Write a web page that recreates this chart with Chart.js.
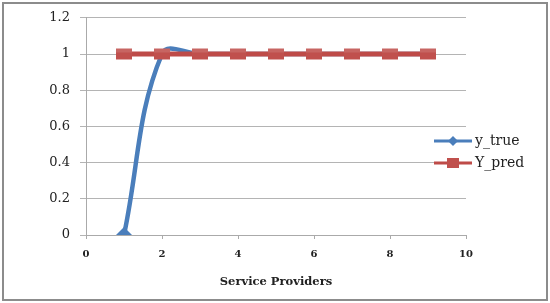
<!DOCTYPE html>
<html>
<head>
<meta charset="utf-8">
<script src="https://cdn.jsdelivr.net/npm/chart.js@4"></script>
<style>
  html, body { margin: 0; padding: 0; background: #fff; }
  #wrap { width: 550px; height: 303px; position: relative; }
</style>
</head>
<body>
<div id="wrap"><canvas id="myChart" width="550" height="303"></canvas></div>
<script>
const providers = [1, 2, 3, 4, 5, 6, 7, 8, 9];
const yTrue = [0, 1, 1, 1, 1, 1, 1, 1, 1];
const yPred = [1, 1, 1, 1, 1, 1, 1, 1, 1];
const seriesNames = ["y_true", "Y_pred"];
const blue = "#4a7ebb";
const red = "#be4b48";

// red square marker, wider than tall like the original
const sq = document.createElement("canvas");
sq.width = 18;
sq.height = 13;
const sctx = sq.getContext("2d");
sctx.fillStyle = "#c0504d";
sctx.fillRect(1, 1, 16, 11);
sctx.fillStyle = "rgba(255,255,255,0.12)";
sctx.fillRect(1, 1, 16, 4);

const serif = "'DejaVu Serif', 'Liberation Serif', serif";

const frame = {
  id: "frame",
  afterDraw(chart) {
    const c = chart.ctx;
    c.save();
    c.strokeStyle = "#8c8c8c";
    c.lineWidth = 2;
    c.strokeRect(3, 3, 544, 297);

    // legend
    const items = [
      { y: 141, color: blue, marker: "diamond", text: seriesNames[0] },
      { y: 163, color: red, marker: "square", text: seriesNames[1] },
    ];
    items.forEach((it) => {
      c.strokeStyle = it.color;
      c.lineWidth = 3;
      c.beginPath();
      c.moveTo(434, it.y);
      c.lineTo(472, it.y);
      c.stroke();
      c.fillStyle = it.color;
      if (it.marker === "diamond") {
        c.beginPath();
        c.moveTo(453, it.y - 5);
        c.lineTo(458, it.y);
        c.lineTo(453, it.y + 5);
        c.lineTo(448, it.y);
        c.closePath();
        c.fill();
      } else {
        c.fillStyle = "#c0504d";
        c.fillRect(447, it.y - 5, 12, 10);
      }
      c.fillStyle = "#222";
      c.font = "14px " + serif;
      c.textBaseline = "middle";
      c.textAlign = "left";
      c.fillText(it.text, 475, it.y);
    });
    c.restore();
  },
};

const ctx = document.getElementById("myChart");
const chart = new Chart(ctx, {
  type: "line",
  data: {
    datasets: [
      {
        label: seriesNames[1],
        data: providers.map((x, i) => ({ x: x, y: yPred[i] })),
        borderColor: red,
        borderWidth: 5,
        pointStyle: sq,
        pointRadius: 8,
        tension: 0,
      },
      {
        label: seriesNames[0],
        data: providers.map((x, i) => ({ x: x, y: yTrue[i] })),
        borderColor: blue,
        backgroundColor: blue,
        borderWidth: 4.5,
        pointStyle: "rectRot",
        // markers at y=1 sit behind the red squares anyway
        pointRadius: (c) => (c.dataIndex === 0 ? 8 : 0),
        pointBorderWidth: 0,
        tension: 0.4,
      },
    ],
  },
  options: {
    responsive: false,
    animation: false,
    layout: { padding: { left: 0, right: 84, top: 15, bottom: 10 } },
    plugins: { legend: { display: false }, tooltip: { enabled: false } },
    scales: {
      x: {
        type: "linear",
        min: 0,
        max: 10,
        ticks: {
          stepSize: 2,
          color: "#222",
          font: { family: serif, size: 10, weight: "bold" },
          padding: 9,
        },
        grid: {
          display: true,
          drawOnChartArea: false,
          drawTicks: true,
          tickLength: 4,
          color: "#aaa",
        },
        border: { color: "#aaa" },
        title: {
          display: true,
          text: "Service Providers",
          color: "#222",
          font: { family: serif, size: 11.5, weight: "bold" },
          padding: { top: 9 },
        },
        afterFit(scale) {
          scale.height = 58;
        },
      },
      y: {
        min: 0,
        max: 1.2,
        ticks: {
          stepSize: 0.2,
          color: "#222",
          font: { family: serif, size: 13 },
          padding: 10,
          callback: (v) => String(Math.round(v * 10) / 10),
        },
        grid: { color: "#b4b4b4", tickLength: 6 },
        border: { color: "#aaa" },
        afterFit(scale) {
          scale.width = 86;
        },
      },
    },
  },
  plugins: [frame],
});
</script>
</body>
</html>
